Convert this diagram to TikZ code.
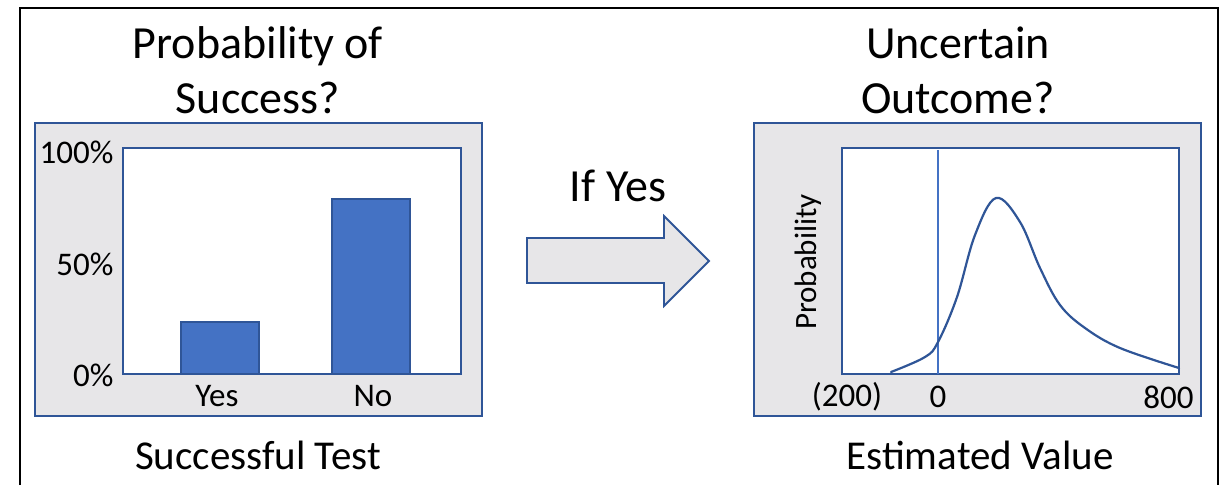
\documentclass[tikz,border=0pt]{standalone}
\usepackage{fontspec}
\setmainfont{Carlito}
\begin{document}
\definecolor{panelgray}{RGB}{231,230,232}
\definecolor{frameblue}{RGB}{47,85,151}
\definecolor{barblue}{RGB}{68,114,196}
\begin{tikzpicture}[x=1pt,y=-1pt,
  panel/.style={draw=frameblue,line width=2pt,fill=panelgray},
  plotarea/.style={draw=frameblue,line width=2pt,fill=white},
  bar/.style={draw=frameblue,line width=1.2pt,fill=barblue},
  title/.style={font=\fontsize{46}{55}\selectfont,align=center},
  axlabel/.style={font=\fontsize{33}{38}\selectfont},
  caption/.style={font=\fontsize{41}{46}\selectfont}]
\useasboundingbox (0,0) rectangle (1225,485);
% outer frame (open at the bottom)
\draw[line width=2.5pt] (20,485) -- (20,8) -- (1218,8) -- (1218,485);

% ---- left panel: bar chart ----
\draw[panel] (35,123) rectangle (482,416);
\draw[plotarea] (123,148) rectangle (461,374);
\draw[bar] (181,374) rectangle (259,322);
\draw[bar] (332,374) rectangle (410,199);
\node[axlabel,anchor=east] (p100) at (117,152) {100\%};
\node[axlabel,anchor=east] (p50) at (117,264) {50\%};
\node[axlabel,anchor=east] (p0) at (117,375) {0\%};
\node[axlabel] (yes) at (217,396) {Yes};
\node[axlabel] (no) at (373,396) {No};
\node[title] (lt) at (258,70) {Probability of\\Success?};
\node[caption] (lc) at (258,455) {Successful Test};

% ---- middle: block arrow ----
\draw[draw=frameblue,line width=1.8pt,fill=panelgray,line join=miter]
  (527,238) -- (664,238) -- (664,216) -- (709,261) -- (664,306) -- (664,283) -- (527,283) -- cycle;
\node[title] (ify) at (618,186) {If Yes};

% ---- right panel: distribution ----
\draw[panel] (754,123) rectangle (1201,416);
\draw[plotarea] (842,148) rectangle (1179,374);
\draw[barblue,line width=1.5pt] (938,150) -- (938,374);
\draw[frameblue,line width=2.2pt,line cap=round]
  plot[smooth,tension=0.6] coordinates {(891,372) (925,357) (938,342) (957,297) (975,235) (996,198) (1020,222) (1040,268) (1060,305) (1085,328) (1120,348) (1179,368)};
\node[axlabel,font=\fontsize{31}{35}\selectfont,rotate=90] (prob) at (808,262) {Probability};
\node[axlabel] (m200) at (847,397) {(200)};
\node[axlabel] (zero) at (938,397) {0};
\node[axlabel,anchor=east] (v800) at (1197,397) {800};
\node[title] (rt) at (958,70) {Uncertain\\Outcome?};
\node[caption] (rc) at (980,455) {Estimated Value};
\end{tikzpicture}
\end{document}
